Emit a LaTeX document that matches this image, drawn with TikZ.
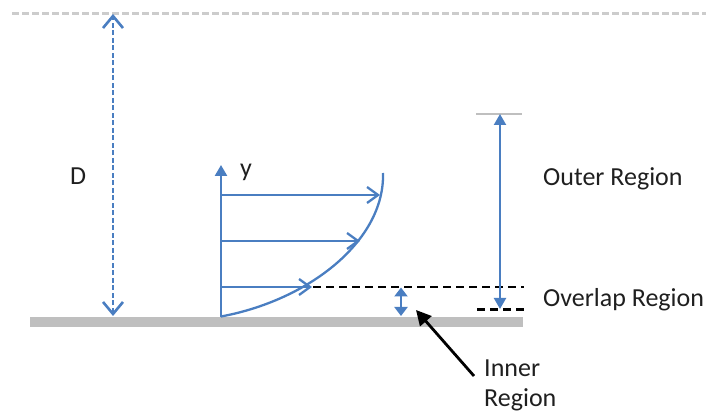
\documentclass[tikz,border=0pt]{standalone}
\usepackage{fontspec}
\setmainfont{Carlito}
\usetikzlibrary{arrows.meta}
\definecolor{blu}{RGB}{74,126,193}
\definecolor{gry}{RGB}{191,191,191}
\definecolor{lgry}{RGB}{204,204,204}
\tikzset{
  lbl/.style={anchor=base west, inner sep=0pt, text=black!88, font=\fontsize{26}{31}\selectfont},
  bluline/.style={blu, line width=2.5pt},
  openhead/.style={-{Straight Barb[length=11pt,width=16pt,line width=2.3pt]}},
  dimopen/.style={{Straight Barb[length=12pt,width=20pt,line width=2.6pt]}-{Straight Barb[length=12pt,width=20pt,line width=2.6pt]}},
  blackdash/.style={black, line width=2.3pt, dash pattern=on 8pt off 5pt},
}
\begin{document}
\begin{tikzpicture}[x=1pt,y=-1pt]
\useasboundingbox (0,0) rectangle (710,414);
% top free-surface line
\coordinate (topL) at (12,13.5);
\coordinate (topR) at (706,13.5);
\draw[lgry, line width=2.5pt, dash pattern=on 6.5pt off 3.5pt] (topL) -- (topR);
% ground
\fill[gry] (30,317.5) rectangle (522.5,326.5);
% D dimension
\coordinate (dtop) at (113,14);
\coordinate (dbot) at (113,316);
\draw[bluline, dash pattern=on 5pt off 2.5pt, dimopen] (dbot) -- (dtop);
\node[lbl] (D) at (70,185) {D};
% y axis
\coordinate (yb) at (221,317);
\coordinate (yt) at (221,165);
\draw[bluline, -{Triangle[length=11pt,width=12pt]}] (yb) -- (yt);
\node[lbl] (ylab) at (240,177) {y};
% velocity profile
\coordinate (p0) at (221,316.5);
\coordinate (p3) at (383,173);
\draw[blu, line width=2.3pt] (p0) .. controls (310,300) and (385,240) .. (p3);
\coordinate (a1s) at (221,195); \coordinate (a1e) at (380,195);
\coordinate (a2s) at (221,241); \coordinate (a2e) at (360,241);
\coordinate (a3s) at (221,287); \coordinate (a3e) at (312,287);
\draw[bluline, openhead] (a1s) -- (a1e);
\draw[bluline, openhead] (a2s) -- (a2e);
\draw[bluline, openhead] (a3s) -- (a3e);
% overlap dashed lines
\coordinate (d1s) at (313,287); \coordinate (d1e) at (524,287);
\coordinate (d2s) at (477,309.5); \coordinate (d2e) at (524,309.5);
\draw[blackdash] (d1s) -- (d1e);
\draw[blackdash] (d2s) -- (d2e);
% inner small double arrow
\coordinate (it) at (401,287.5);
\coordinate (ib) at (401,316);
\draw[bluline, {Triangle[length=9pt,width=13pt]}-{Triangle[length=9pt,width=13pt]}] (ib) -- (it);
% outer region arrow
\coordinate (ogL) at (476,114);
\coordinate (ogR) at (522,114);
\draw[gry, line width=2.5pt] (ogL) -- (ogR);
\coordinate (ot) at (500,114);
\coordinate (ob) at (500,309);
\draw[blu, line width=2.2pt, {Triangle[length=11pt,width=12pt]}-{Triangle[length=11pt,width=12pt]}] (ot) -- (ob);
% labels
\node[lbl] (outer) at (543,186) {Outer Region};
\node[lbl] (overlap) at (543,306.5) {Overlap Region};
\node[lbl] (inner1) at (484,376.5) {Inner};
\node[lbl] (inner2) at (484,406) {Region};
% pointer arrow
\coordinate (ptail) at (474,376);
\coordinate (phead) at (416,310);
\draw[black, line width=2.8pt, -{Triangle[length=15pt,width=15pt]}] (ptail) -- (phead);
\end{tikzpicture}
\end{document}
